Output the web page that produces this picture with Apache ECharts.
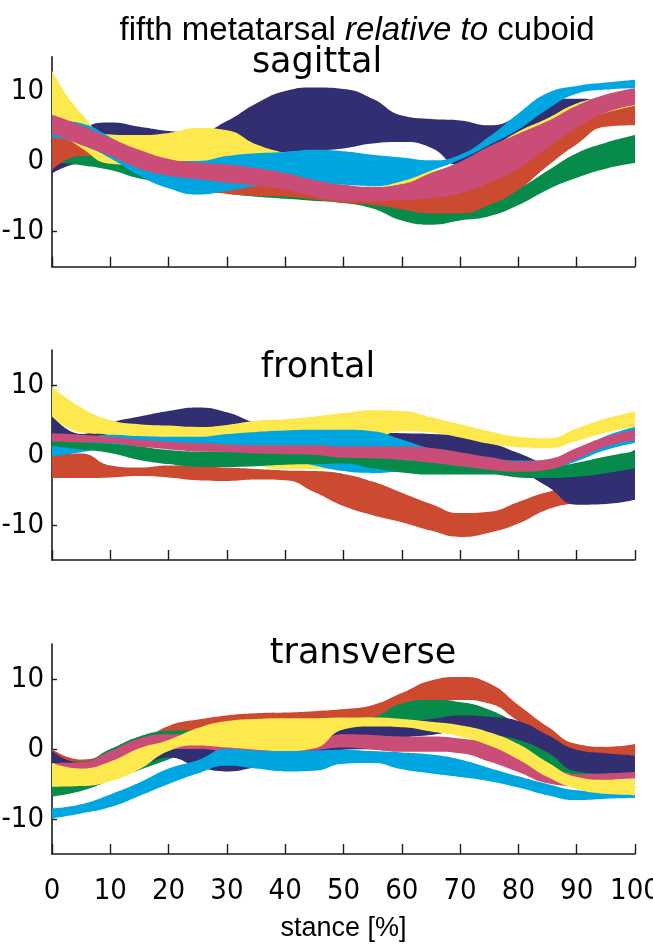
<!DOCTYPE html>
<html>
<head>
<meta charset="utf-8">
<script src="https://cdn.jsdelivr.net/npm/echarts@6/dist/echarts.min.js"></script>
<style>
html,body{margin:0;padding:0;background:#fff;}
#chart{width:653px;height:947px;}
</style>
</head>
<body>
<div id="chart"></div>
<script>
// ---------- data ----------
const stance = [0,5,10,15,20,25,30,35,40,45,50,55,60,65,70,75,80,85,90,95,100];
const yTickValues = [-10, 0, 10];
const panelTitles = ['sagittal', 'frontal', 'transverse'];

// sagittal
const sagNavyUpper   = [0.8, 4.5, 5.6, 5.0, 4.4, 4.2, 5.8, 8.3, 10.1, 10.6, 10.4, 9.0, 6.6, 6.1, 5.9, 5.2, 6.5, 8.9, 9.0, 8.9, 8.8];
const sagNavyLower   = [-1.7, -0.2, 0.0, 0.4, 0.5, 0.7, 1.0, 1.2, 1.4, 1.6, 1.9, 2.6, 2.8, 2.0, -0.5, 1.0, 3.5, 5.5, 7.0, 7.5, 8.0];
const sagGreenUpper  = [3.0, 2.0, 0.8, -0.5, -1.5, -2.5, -3.0, -3.5, -4.0, -4.5, -5.0, -5.5, -6.0, -6.2, -5.8, -5.2, -3.8, -1.3, 1.2, 2.7, 3.8];
const sagGreenLower  = [0.0, -0.5, -1.2, -2.4, -3.0, -3.5, -4.5, -5.0, -5.3, -5.6, -5.9, -6.7, -8.4, -9.0, -8.4, -7.8, -6.2, -4.0, -2.3, -1.0, -0.2];
const sagRedUpper    = [4.5, 3.0, 1.5, -0.5, -1.6, -2.2, -2.7, -3.0, -3.5, -4.2, -4.6, -4.8, -4.6, -4.2, -3.5, -2.0, 0.0, 2.5, 5.0, 7.3, 8.5];
const sagRedLower    = [-1.2, 0.8, 0.5, -1.0, -3.0, -4.2, -4.6, -4.9, -5.0, -5.4, -5.9, -6.2, -6.8, -7.4, -7.4, -6.2, -4.0, -0.6, 2.5, 5.0, 5.2];
const sagYellowUpper = [13.0, 6.9, 3.9, 3.8, 4.1, 4.8, 4.5, 2.5, 1.2, 0.0, -0.5, -1.5, -2.2, -1.3, -0.5, 1.8, 4.3, 6.2, 8.3, 9.3, 10.0];
const sagYellowLower = [5.0, 2.0, -0.3, -0.5, 0.0, 0.0, 0.3, 0.5, 0.0, -1.5, -2.5, -3.2, -3.8, -3.8, -3.0, -1.0, 1.5, 4.0, 5.8, 7.0, 8.0];
const sagBlueUpper   = [6.0, 5.5, 3.5, 1.0, 0.1, 0.1, 0.8, 1.2, 1.4, 1.7, 1.5, 1.0, 0.6, 0.2, 1.0, 3.6, 6.9, 9.8, 10.8, 11.3, 11.7];
const sagBlueLower   = [3.5, 2.5, 0.5, -2.0, -3.8, -4.7, -4.2, -3.5, -3.3, -3.2, -3.3, -3.5, -2.8, -1.3, 0.3, 2.4, 4.6, 7.5, 9.7, 10.3, 10.5];
const sagPinkUpper   = [6.7, 5.2, 3.4, 1.7, 0.4, -0.1, -0.4, -0.9, -1.6, -2.6, -3.3, -3.6, -3.2, -1.6, 0.0, 2.2, 4.0, 5.8, 8.0, 9.6, 10.5];
const sagPinkLower   = [4.0, 2.4, 0.8, -1.0, -2.0, -2.5, -3.0, -3.4, -4.0, -5.0, -5.6, -5.7, -5.5, -5.2, -4.5, -3.0, -1.0, 2.0, 4.8, 7.0, 8.1];

// frontal
const froRedUpper    = [0.0, 0.2, -1.5, -1.8, -1.5, -1.6, -1.8, -2.0, -2.2, -2.3, -2.7, -3.8, -5.4, -7.0, -8.3, -8.1, -6.7, -5.3, -4.5, -4.0, -3.5];
const froRedLower    = [-3.3, -3.3, -3.2, -3.0, -3.2, -3.6, -3.7, -3.5, -3.6, -5.3, -7.3, -8.6, -9.6, -10.8, -11.7, -11.1, -9.8, -7.8, -6.8, -6.0, -5.5];
const froNavyUpper   = [5.7, 3.0, 4.6, 5.5, 6.3, 6.8, 6.1, 4.6, 4.0, 3.8, 3.5, 3.2, 3.1, 3.0, 2.7, 1.8, 0.3, -1.3, -1.8, -1.0, 0.7];
const froNavyLower   = [2.5, 2.2, 3.0, 3.2, 3.4, 3.5, 3.5, 3.2, 2.8, 2.5, 2.0, 1.5, 1.0, 0.5, 0.0, -0.8, -2.2, -4.5, -7.1, -7.0, -6.4];
const froYellowUpper = [9.8, 6.8, 5.0, 4.4, 4.2, 4.0, 4.3, 4.9, 5.1, 5.5, 6.0, 6.4, 6.3, 5.4, 4.4, 3.4, 2.6, 2.4, 3.8, 5.2, 6.2];
const froYellowLower = [5.5, 3.2, 2.9, 2.6, 2.5, 2.5, 1.8, -1.2, -2.0, -2.0, -1.2, 1.5, 3.4, 3.2, 2.5, 1.6, 1.1, 1.0, 2.0, 3.2, 4.0];
const froBlueUpper   = [1.4, 2.2, 2.9, 2.7, 2.6, 2.6, 3.0, 3.3, 3.5, 3.6, 3.6, 3.4, 2.2, 0.9, 0.2, -0.4, -0.8, -0.8, 0.5, 2.7, 4.0];
const froBlueLower   = [-0.2, 0.4, 1.0, 1.2, 1.0, 0.8, 0.5, 0.0, -0.5, -1.5, -2.3, -2.6, -2.4, -2.4, -2.2, -2.3, -2.5, -2.2, -0.9, 0.7, 1.7];
const froGreenUpper  = [2.1, 1.9, 1.6, 1.2, 0.7, 0.5, 0.5, 0.3, 0.2, 0.1, 0.0, -0.3, -0.7, -1.0, -1.3, -1.7, -1.9, -1.8, -1.1, -0.2, 0.5];
const froGreenLower  = [1.3, 0.8, 0.3, -0.7, -1.3, -1.7, -1.7, -1.6, -1.4, -1.3, -1.2, -1.9, -2.5, -2.8, -2.8, -2.8, -3.2, -3.3, -3.1, -2.6, -1.9];
const froPinkUpper   = [3.1, 2.9, 2.6, 2.2, 1.9, 1.7, 1.5, 1.4, 1.4, 1.4, 1.2, 1.2, 1.2, 1.0, 0.4, -0.3, -0.9, -0.6, 1.0, 2.6, 3.6];
const froPinkLower   = [1.9, 1.8, 1.7, 1.2, 0.8, 0.5, 0.4, 0.2, 0.1, 0.0, -0.4, -0.5, -0.7, -1.1, -1.6, -2.1, -2.4, -2.1, -0.6, 1.2, 2.1];

// transverse
const traRedUpper    = [0.0, -1.5, -0.5, 1.0, 3.3, 4.2, 4.8, 5.1, 5.2, 5.4, 5.7, 6.3, 8.0, 9.8, 10.3, 9.4, 6.3, 3.2, 0.7, 0.3, 0.7];
const traRedLower    = [-1.5, -2.5, -2.0, -0.5, 1.0, 2.0, 3.0, 3.5, 4.0, 4.3, 4.4, 4.5, 5.0, 6.2, 7.0, 6.5, 4.0, 1.5, -0.4, -0.9, -0.9];
const traGreenUpper  = [-1.5, -1.8, 0.0, 1.8, 2.6, 2.7, 3.5, 4.0, 4.0, 4.0, 4.0, 4.5, 6.5, 7.0, 6.7, 5.6, 3.5, 1.0, -1.8, -3.0, -3.0];
const traGreenLower  = [-6.8, -6.0, -4.5, -3.0, -1.5, 0.0, 1.0, 2.0, 2.0, 2.0, 2.0, 2.5, 3.0, 3.5, 3.0, 1.5, -0.5, -2.5, -3.7, -4.0, -4.0];
const traNavyUpper   = [-0.3, -2.0, -1.0, -0.5, 0.5, 0.5, 0.0, -0.3, 0.0, 0.5, 2.9, 3.4, 3.8, 4.3, 4.8, 4.6, 4.0, 2.0, -0.1, -0.6, -0.9];
const traNavyLower   = [-2.8, -3.0, -3.0, -2.5, -1.2, -2.5, -3.2, -2.6, -2.0, -1.0, -0.1, 0.0, 1.5, 2.0, 2.5, 2.0, 1.3, -0.5, -3.2, -3.5, -3.5];
const traPinkUpper   = [-2.0, -1.9, -0.3, 1.5, 2.1, 2.0, 1.5, 1.0, 0.5, 1.0, 2.1, 2.0, 1.8, 1.8, 1.5, 0.8, -0.6, -2.3, -3.6, -3.5, -3.3];
const traPinkLower   = [-3.0, -3.2, -2.5, -1.0, 0.0, 0.0, -0.5, -1.0, -0.5, -0.2, 0.2, -0.1, -0.4, -0.4, -0.6, -1.8, -3.3, -4.9, -5.3, -4.5, -4.2];
const traBlueUpper   = [-8.5, -7.9, -6.5, -4.8, -2.8, -1.6, 0.0, -0.2, -0.3, -0.2, -0.1, -0.3, -0.5, -0.8, -1.5, -2.7, -3.9, -5.0, -5.9, -6.1, -6.2];
const traBlueLower   = [-9.9, -9.2, -8.3, -6.7, -5.0, -3.5, -2.4, -2.8, -3.2, -3.1, -2.1, -2.0, -2.9, -3.5, -4.0, -4.6, -5.5, -6.6, -7.3, -7.1, -7.0];
const traYellowUpper = [-2.0, -2.8, -1.8, 0.1, 1.3, 3.0, 4.0, 4.3, 4.4, 4.4, 4.5, 4.5, 4.3, 3.9, 3.4, 2.4, 0.7, -1.9, -4.0, -4.4, -4.3];
const traYellowLower = [-5.4, -5.3, -4.6, -2.9, -0.3, 0.5, 0.2, -0.1, -0.3, 0.1, 2.8, 3.2, 3.1, 2.5, 1.8, 0.5, -1.5, -4.0, -5.7, -6.4, -6.6];

// ---------- styling ----------
const colors = {
  navy: '#312e72', red: '#cc4a2f', green: '#078b4b',
  yellow: '#fde84e', blue: '#00a6e0', pink: '#c94d76'
};

const panels = [
  { order: ['navy','green','red','yellow','blue','pink'], bands: {
      navy: [sagNavyLower, sagNavyUpper], green: [sagGreenLower, sagGreenUpper],
      red: [sagRedLower, sagRedUpper], yellow: [sagYellowLower, sagYellowUpper],
      blue: [sagBlueLower, sagBlueUpper], pink: [sagPinkLower, sagPinkUpper] } },
  { order: ['red','navy','yellow','blue','green','pink'], bands: {
      navy: [froNavyLower, froNavyUpper], green: [froGreenLower, froGreenUpper],
      red: [froRedLower, froRedUpper], yellow: [froYellowLower, froYellowUpper],
      blue: [froBlueLower, froBlueUpper], pink: [froPinkLower, froPinkUpper] } },
  { order: ['red','green','navy','pink','blue','yellow'], bands: {
      navy: [traNavyLower, traNavyUpper], green: [traGreenLower, traGreenUpper],
      red: [traRedLower, traRedUpper], yellow: [traYellowLower, traYellowUpper],
      blue: [traBlueLower, traBlueUpper], pink: [traPinkLower, traPinkUpper] } }
];

const gridTops = [56.7, 350, 644];
const gridHeight = 210;
const narrowFont = '"Liberation Sans Narrow", "Arial Narrow", "DejaVu Sans Condensed", sans-serif';
const axisColor = '#1a1a1a';

const grids = [], xAxes = [], yAxes = [], series = [];

panels.forEach((p, pi) => {
  grids.push({ left: 52, right: 18, top: gridTops[pi], height: gridHeight, containLabel: false, outerBoundsMode: 'none' });
  xAxes.push({
    type: 'category', gridIndex: pi, data: stance.map(String), boundaryGap: false,
    axisLine: { show: true, onZero: false, lineStyle: { color: axisColor, width: 1.6 } },
    axisTick: { show: true, inside: true, length: 10, interval: 1, lineStyle: { color: axisColor, width: 1.4 } },
    axisLabel: { show: pi === 2, interval: 1, margin: 23, fontFamily: narrowFont, fontSize: 29, color: '#000' },
    splitLine: { show: false },
    name: pi === 2 ? 'stance [%]' : '',
    nameLocation: 'middle', nameGap: 61,
    nameTextStyle: { fontFamily: '"Liberation Sans", Arial, sans-serif', fontSize: 27, color: '#000' }
  });
  yAxes.push({
    type: 'value', gridIndex: pi, min: -15, max: 15, interval: 5,
    axisLine: { show: true, onZero: false, lineStyle: { color: axisColor, width: 1.6 } },
    axisTick: { show: true, inside: true, length: 5, customValues: yTickValues, lineStyle: { color: axisColor, width: 1.4 } },
    axisLabel: {
      show: true, margin: 8, customValues: yTickValues,
      fontFamily: narrowFont, fontSize: 29, color: '#000',
      formatter: v => (yTickValues.indexOf(v) >= 0 ? String(v) : '')
    },
    splitLine: { show: false }
  });
  p.order.forEach(name => {
    const lo = p.bands[name][0], hi = p.bands[name][1];
    const stack = 'p' + pi + '_' + name;
    series.push({
      type: 'line', xAxisIndex: pi, yAxisIndex: pi, stack: stack, stackStrategy: 'all',
      smooth: 0.5, symbol: 'none', silent: true, animation: false,
      lineStyle: { opacity: 0, width: 0 },
      data: lo.slice()
    });
    series.push({
      type: 'line', xAxisIndex: pi, yAxisIndex: pi, stack: stack, stackStrategy: 'all',
      smooth: 0.5, symbol: 'none', silent: true, animation: false,
      lineStyle: { opacity: 0, width: 0 },
      areaStyle: { color: colors[name], opacity: 1 },
      data: hi.map((v, i) => +(v - lo[i]).toFixed(3))
    });
  });
});

const panelTitleFont = '"DejaVu Sans", Verdana, sans-serif';
const panelTitlePos = [[317, 63], [318, 368], [363, 654]];

const graphics = [{
  type: 'text', x: 357, y: 31, z: 100,
  style: {
    text: '{n|fifth metatarsal }{i|relative to}{n| cuboid}',
    align: 'center', verticalAlign: 'middle',
    rich: {
      n: { fontFamily: '"Liberation Sans", Arial, sans-serif', fontSize: 33, fill: '#000', color: '#000' },
      i: { fontFamily: '"Liberation Sans", Arial, sans-serif', fontSize: 33, fontStyle: 'italic', fill: '#000', color: '#000' }
    }
  }
}];
panelTitles.forEach((t, i) => {
  graphics.push({
    type: 'text', x: panelTitlePos[i][0], y: panelTitlePos[i][1], z: 100,
    style: { text: t, align: 'center', verticalAlign: 'middle',
      fontFamily: panelTitleFont, fontSize: 35, fill: '#000' }
  });
});

const chart = echarts.init(document.getElementById('chart'), null, { renderer: 'canvas' });
chart.setOption({
  backgroundColor: '#fff',
  animation: false,
  grid: grids,
  xAxis: xAxes,
  yAxis: yAxes,
  series: series,
  graphic: graphics
});
</script>
</body>
</html>
